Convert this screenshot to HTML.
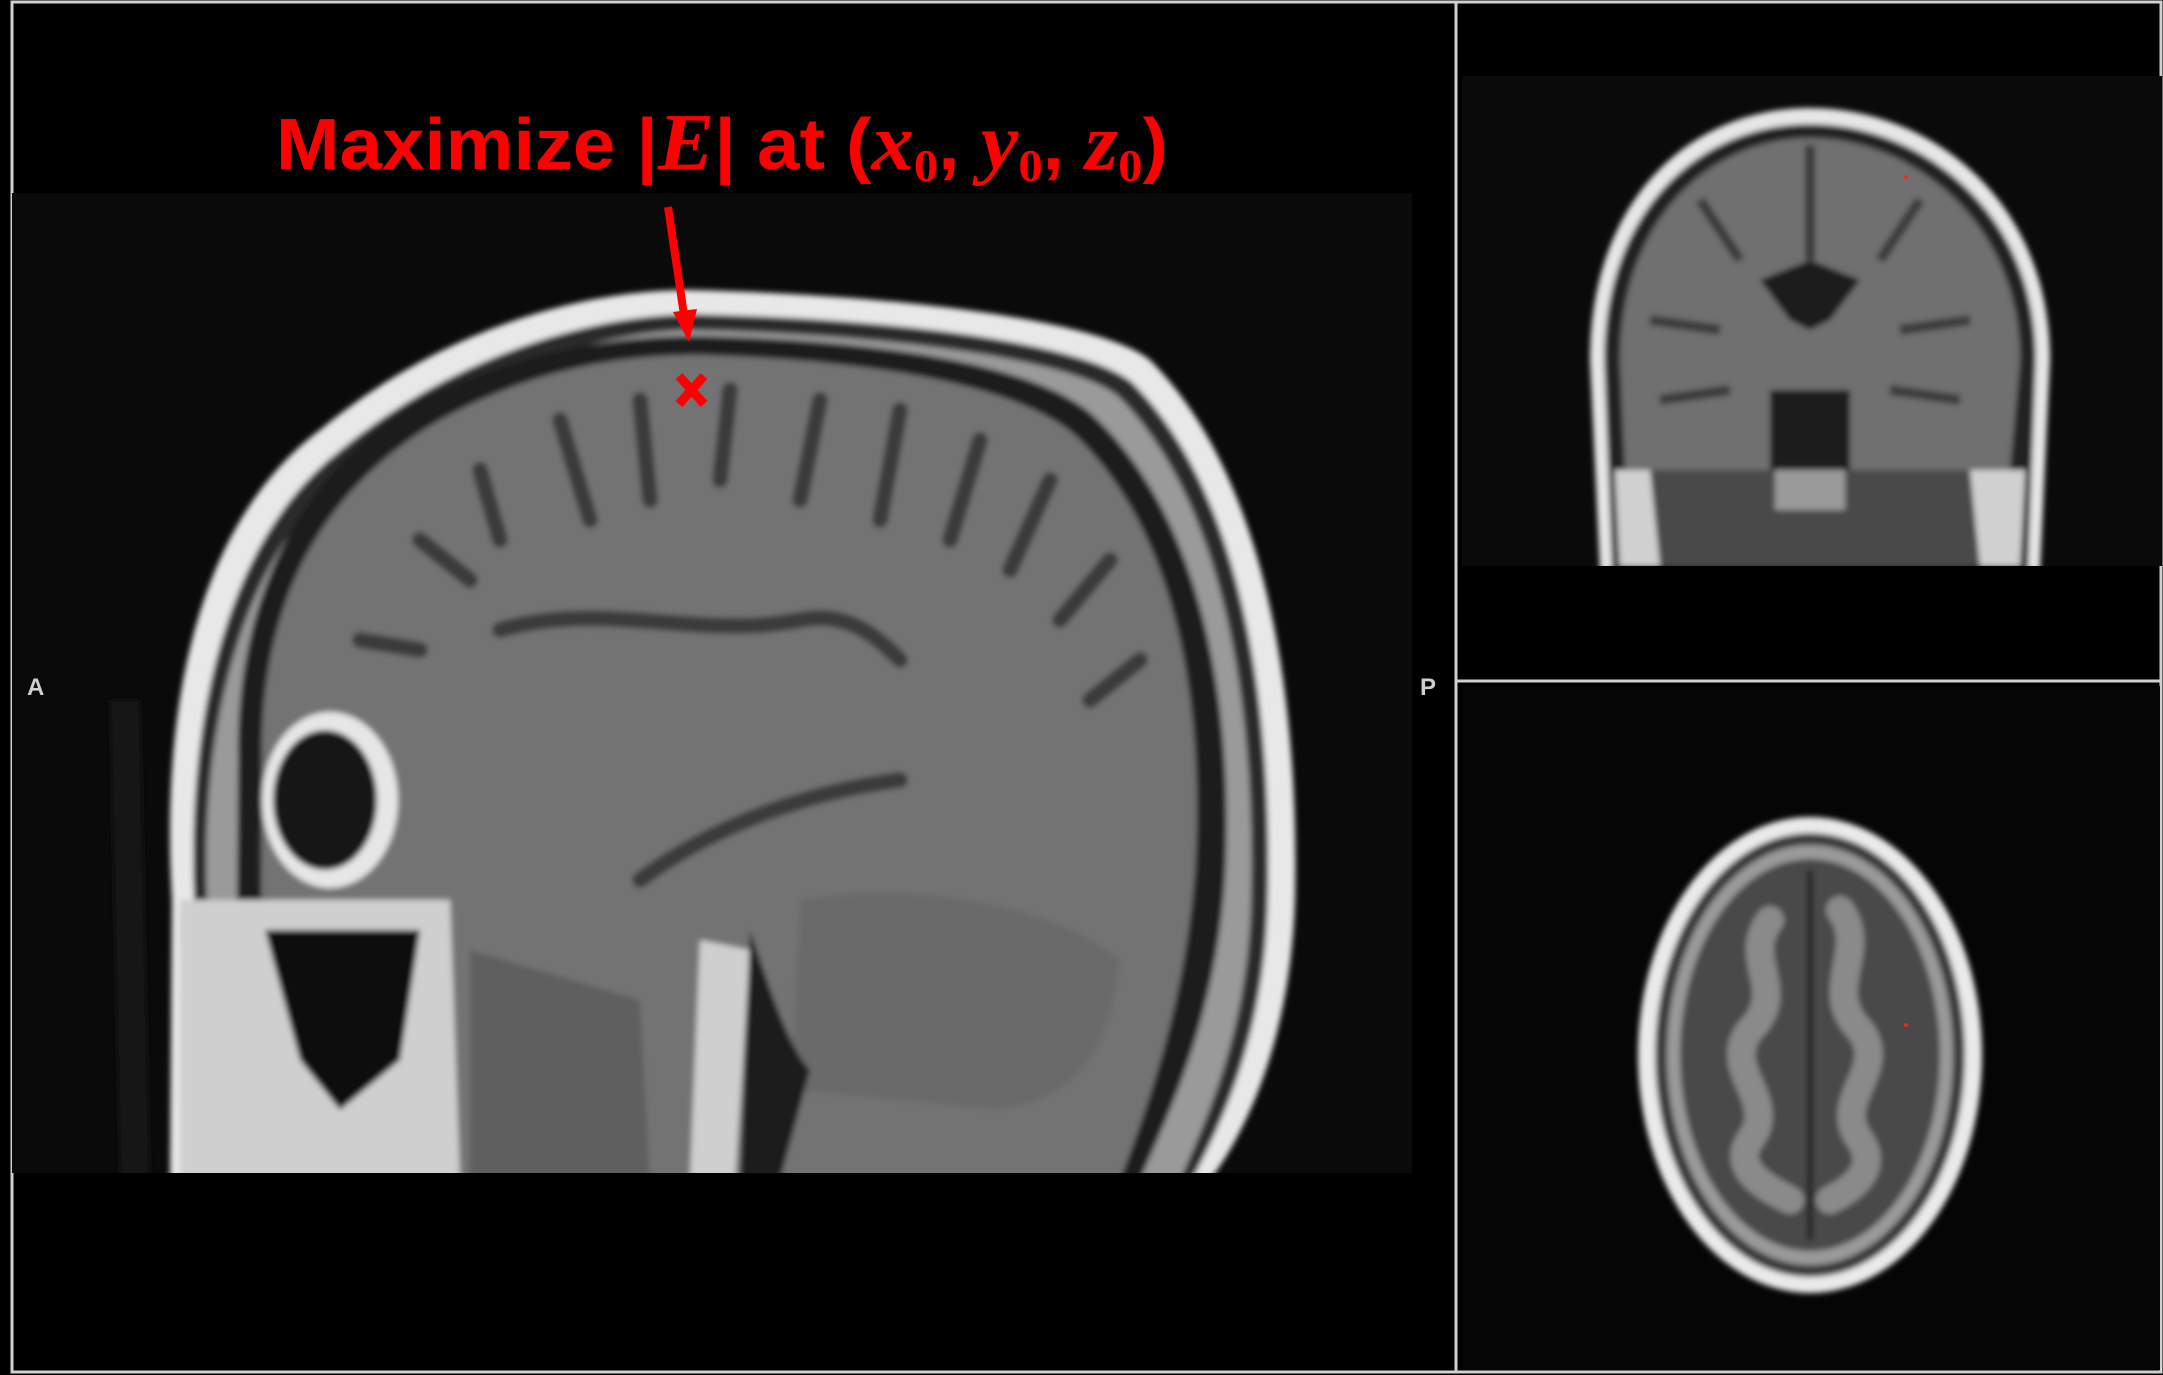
<!DOCTYPE html>
<html><head><meta charset="utf-8"><style>
html,body{margin:0;padding:0;background:#000;}
#root{position:relative;width:2163px;height:1375px;background:#000;overflow:hidden;}
svg{position:absolute;left:0;top:0;}
.lbl{position:absolute;color:#cfcfcf;font:bold 24px "Liberation Sans",sans-serif;}
#title{position:absolute;left:276px;top:103px;color:#ff0000;font-family:"Liberation Sans",sans-serif;font-weight:bold;font-size:72px;line-height:1;white-space:nowrap;transform-origin:0 0;transform:scaleX(1.06);}
#title i{font-family:"Liberation Serif",serif;font-size:80px;}
#title sub{font-size:46px;vertical-align:-12px;font-family:"Liberation Serif",serif;font-style:normal;}
</style></head><body>
<div id="root">
<svg width="2163" height="1375" viewBox="0 0 2163 1375">
  <defs>
    <filter id="bl" x="-10%" y="-10%" width="120%" height="120%"><feGaussianBlur stdDeviation="3"/></filter>
    <clipPath id="sagclip"><rect x="12" y="193" width="1400" height="980"/></clipPath>
    <clipPath id="corclip"><rect x="1462" y="76" width="700" height="490"/></clipPath>
  </defs>
  <rect x="12" y="2" width="2149" height="1370" fill="none" stroke="#d0d0d0" stroke-width="3"/>
  <line x1="1456" y1="2" x2="1456" y2="1373" stroke="#d0d0d0" stroke-width="3"/>
  <line x1="1456" y1="681" x2="2161" y2="681" stroke="#d0d0d0" stroke-width="3"/>

  <g clip-path="url(#sagclip)">
    <rect x="12" y="193" width="1400" height="980" fill="#0a0a0a"/>
    <g filter="url(#bl)">
    <path d="M170 1180 L172 900 C160 700 200 520 320 430 C440 330 580 290 690 290 C900 295 1100 320 1150 360 C1260 470 1300 680 1295 900 C1290 1050 1240 1140 1210 1180 Z" fill="#e8e8e8"/>
    <path d="M192 1180 L194 900 C186 720 226 540 338 452 C450 358 585 316 690 314 C890 318 1082 342 1132 382 C1238 488 1273 690 1268 900 C1265 1040 1218 1130 1192 1180 Z" fill="#2a2a2a"/>
    <path d="M205 1180 L207 900 C200 730 240 555 350 468 C458 378 590 332 690 330 C882 334 1070 358 1118 396 C1222 500 1256 700 1251 900 C1248 1030 1206 1120 1180 1180 Z" fill="#9a9a9a"/>
    <path d="M235 1180 L238 760 C235 600 300 470 420 400 C530 345 630 336 700 336 C880 340 1045 365 1098 420 C1200 520 1235 700 1225 880 C1215 1020 1170 1110 1140 1180 Z" fill="#1c1c1c"/>
    <path d="M260 1180 L262 740 C265 600 320 490 440 420 C540 365 630 355 700 355 C870 360 1025 385 1080 440 C1175 535 1205 700 1195 870 C1185 1000 1150 1100 1120 1180 Z" fill="#737373"/>
    <path d="M800 900 C900 880 1050 900 1120 960 C1110 1060 1070 1100 1000 1110 L790 1090 Z" fill="#6a6a6a"/>
    <g stroke="#3a3a3a" stroke-width="16" fill="none" stroke-linecap="round">
      <path d="M480 470 L500 540"/><path d="M560 420 L590 520"/><path d="M640 400 L650 500"/><path d="M730 390 L720 480"/>
      <path d="M820 400 L800 500"/><path d="M900 410 L880 520"/><path d="M980 440 L950 540"/><path d="M1050 480 L1010 570"/>
      <path d="M1110 560 L1060 620"/><path d="M1140 660 L1090 700"/><path d="M420 540 L470 580"/><path d="M360 640 L420 650"/>
      <path d="M500 630 C600 600 700 640 800 620 C850 610 880 640 900 660"/>
      <path d="M640 880 C720 820 820 790 900 780"/>
    </g>
    <ellipse cx="330" cy="800" rx="68" ry="88" fill="#e6e6e6"/>
    <ellipse cx="325" cy="800" rx="52" ry="70" fill="#151515"/>
    <path d="M180 900 L450 900 L460 1180 L180 1180 Z" fill="#cfcfcf"/>
    <path d="M265 930 L420 930 L400 1060 L340 1110 L300 1060 Z" fill="#0d0d0d"/>
    <path d="M470 950 L640 1000 L650 1180 L470 1180 Z" fill="#5e5e5e"/>
    <path d="M700 940 L750 950 L735 1180 L690 1180 Z" fill="#cfcfcf"/>
    <path d="M750 930 C770 990 790 1050 810 1070 L780 1180 L740 1180 Z" fill="#1a1a1a"/>
    <path d="M150 1180 L140 700 L110 700 L120 1180 Z" fill="#181818"/>
    </g>
    <g stroke="#ff0000" stroke-width="9" stroke-linecap="butt">
      <line x1="679" y1="376" x2="704" y2="404"/><line x1="704" y1="376" x2="679" y2="404"/>
    </g>
  </g>
  <g>
    <line x1="668" y1="207" x2="684" y2="315" stroke="#ff0000" stroke-width="8"/>
    <polygon points="673,312 697,309 689,342" fill="#ff0000"/>
  </g>

  <g clip-path="url(#corclip)">
    <rect x="1462" y="76" width="700" height="490" fill="#0a0a0a"/>
    <g filter="url(#bl)">
    <path d="M1600 570 L1590 360 C1590 200 1690 108 1810 108 C1930 108 2050 200 2050 360 L2040 570 Z" fill="#e6e6e6"/>
    <path d="M1612 570 L1604 360 C1604 210 1700 124 1810 124 C1920 124 2036 210 2036 360 L2028 570 Z" fill="#222"/>
    <path d="M1625 470 L1620 360 C1620 220 1710 138 1810 138 C1910 138 2020 220 2020 360 L2010 470 Z" fill="#6f6f6f"/>
    <path d="M1760 280 L1810 260 L1860 280 L1830 320 L1810 330 L1790 320 Z" fill="#1e1e1e"/>
    <rect x="1770" y="390" width="80" height="90" fill="#1a1a1a"/>
    <path d="M1610 470 L2030 470 L2020 566 L1615 566 Z" fill="#4a4a4a"/>
    <path d="M1615 470 L1650 470 L1660 566 L1620 566 Z" fill="#d0d0d0"/>
    <path d="M1970 470 L2025 470 L2020 566 L1980 566 Z" fill="#d0d0d0"/>
    <rect x="1775" y="470" width="70" height="40" fill="#9a9a9a"/>
    <g stroke="#3a3a3a" stroke-width="10" fill="none"><path d="M1810 145 L1810 260"/><path d="M1700 200 L1740 260"/><path d="M1920 200 L1880 260"/><path d="M1650 320 L1720 330"/><path d="M1970 320 L1900 330"/><path d="M1660 400 L1730 390"/><path d="M1960 400 L1890 390"/></g>
    </g>
    <circle cx="1906" cy="177" r="2" fill="#ff2020"/>
  </g>

  <g>
    <rect x="1462" y="686" width="698" height="684" fill="#050505"/>
    <g filter="url(#bl)">
    <ellipse cx="1810" cy="1055" rx="172" ry="238" fill="#eaeaea"/>
    <ellipse cx="1810" cy="1055" rx="155" ry="222" fill="#3a3a3a"/>
    <ellipse cx="1810" cy="1055" rx="143" ry="210" fill="#9a9a9a"/>
    <ellipse cx="1810" cy="1055" rx="130" ry="196" fill="#4a4a4a"/>
    <g stroke="#8a8a8a" stroke-width="28" fill="none" stroke-linecap="round">
      <path d="M1770 920 C1740 960 1790 990 1750 1030 C1720 1070 1780 1100 1750 1140 C1730 1170 1770 1190 1790 1200"/>
      <path d="M1840 910 C1870 950 1820 990 1860 1030 C1890 1070 1830 1100 1860 1140 C1880 1170 1850 1190 1830 1200"/>
    </g>
    <line x1="1810" y1="870" x2="1810" y2="1240" stroke="#222" stroke-width="6"/>
    </g>
    <circle cx="1906" cy="1025" r="2" fill="#ff2020"/>
  </g>
</svg>
<div class="lbl" style="left:27px;top:674px">A</div>
<div class="lbl" style="left:1420px;top:674px">P</div>
<div id="title">Maximize |<i>E</i>| at (<i>x</i><sub>0</sub>, <i>y</i><sub>0</sub>, <i>z</i><sub>0</sub>)</div>
</div>
</body></html>
